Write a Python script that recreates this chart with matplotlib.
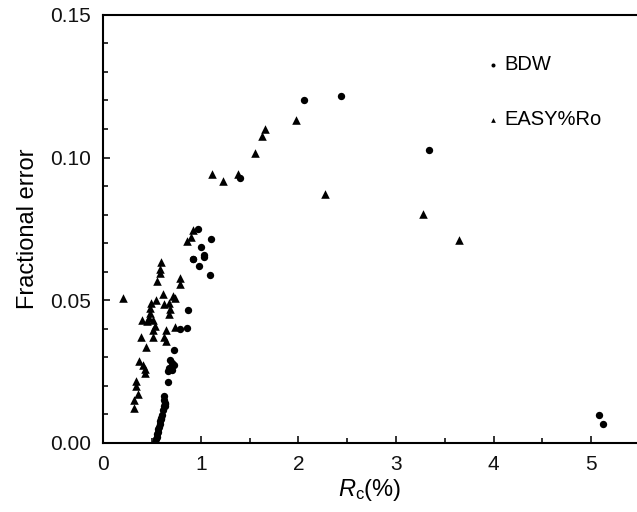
import matplotlib
matplotlib.use("Agg")
import matplotlib.pyplot as plt
from matplotlib.ticker import MultipleLocator, FormatStrFormatter

plt.rcParams['font.family'] = ['Liberation Sans', 'DejaVu Sans']
plt.rcParams['mathtext.fontset'] = 'custom'
plt.rcParams['mathtext.rm'] = 'Liberation Sans'
plt.rcParams['mathtext.it'] = 'Liberation Sans:italic'

# --- data ---
bdw_x = [0.530, 0.540, 0.547, 0.555, 0.560, 0.565, 0.572, 0.578, 0.583, 0.590,
         0.594, 0.601, 0.611, 0.618, 0.618, 0.630, 0.635, 0.630, 0.618,
         0.669, 0.669, 0.679, 0.686, 0.703, 0.703, 0.727, 0.727,
         0.788, 0.863, 0.867,
         0.918, 0.924, 0.976, 0.986, 1.000, 1.034, 1.038, 1.095, 1.105,
         1.402, 2.057, 2.433, 3.334, 5.080, 5.117]
bdw_y = [0.0004, 0.0012, 0.0020, 0.0030, 0.0039, 0.0048, 0.0057, 0.0066, 0.0076, 0.0082,
         0.0088, 0.0099, 0.0116, 0.0128, 0.0151, 0.0128, 0.0140, 0.0138, 0.0163,
         0.0212, 0.0251, 0.0263, 0.0292, 0.0257, 0.0280, 0.0274, 0.0327,
         0.0399, 0.0401, 0.0465,
         0.0645, 0.0644, 0.0749, 0.0619, 0.0686, 0.0653, 0.0657, 0.0589, 0.0714,
         0.0928, 0.1202, 0.1214, 0.1025, 0.0098, 0.0066]

easy_x = [0.198, 0.590, 0.584, 0.577, 0.556, 0.788, 0.788, 0.611, 0.543, 0.488,
          0.481, 0.481, 0.474, 0.618, 0.679, 0.686, 0.676, 0.720, 0.737, 0.396,
          0.447, 0.515, 0.532, 0.508, 0.515, 0.737, 0.645, 0.618, 0.645, 0.389,
          0.437, 0.372, 0.413, 0.427, 0.427, 0.338, 0.338, 0.352, 0.311, 0.311,
          0.863, 0.897, 0.925, 1.112, 1.225, 1.378, 1.556, 1.624, 1.658, 1.975,
          2.272, 3.272, 3.647]
easy_y = [0.0508, 0.0633, 0.0610, 0.0594, 0.0567, 0.0578, 0.0558, 0.0523, 0.0502, 0.0491,
          0.0473, 0.0456, 0.0438, 0.0485, 0.0491, 0.0470, 0.0450, 0.0514, 0.0508, 0.0430,
          0.0426, 0.0430, 0.0411, 0.0397, 0.0371, 0.0406, 0.0397, 0.0371, 0.0356, 0.0371,
          0.0335, 0.0286, 0.0274, 0.0259, 0.0245, 0.0216, 0.0200, 0.0172, 0.0149, 0.0122,
          0.0709, 0.0721, 0.0747, 0.0943, 0.0916, 0.0943, 0.1017, 0.1076, 0.1100, 0.1132,
          0.0872, 0.0803, 0.0712]

fig = plt.figure(figsize=(6.37, 5.12), dpi=100)
ax = fig.add_axes([0.162, 0.135, 0.838, 0.836])

ax.scatter(bdw_x, bdw_y, s=28, marker='o', color='black', linewidths=0, label='BDW')
ax.scatter(easy_x, easy_y, s=38, marker='^', color='black', linewidths=0, label='EASY%Ro')

ax.set_xlim(0, 5.47)
ax.set_ylim(0, 0.15)
ax.xaxis.set_major_locator(MultipleLocator(1))
ax.xaxis.set_minor_locator(MultipleLocator(0.5))
ax.yaxis.set_major_locator(MultipleLocator(0.05))
ax.yaxis.set_minor_locator(MultipleLocator(0.01))
ax.yaxis.set_major_formatter(FormatStrFormatter('%.2f'))
ax.tick_params(which='both', direction='in', width=1.2, labelsize=15, colors='#111111')
ax.tick_params(which='major', length=5)
ax.tick_params(which='minor', length=3.5)
ax.tick_params(axis='y', pad=9)
ax.tick_params(axis='x', pad=9)
for side in ['left', 'bottom', 'top']:
    ax.spines[side].set_linewidth(1.5)
ax.spines['right'].set_visible(False)

ax.set_xlabel(r'$\mathit{R}_\mathrm{c}$(%)', fontsize=17, labelpad=2)
ax.set_ylabel('Fractional error', fontsize=17, labelpad=8)

ax.legend(loc='upper left', bbox_to_anchor=(0.702, 0.93), frameon=False,
          fontsize=14.5, markerscale=0.55, handlelength=0.5, handletextpad=0.3,
          labelspacing=1.8, borderpad=0)

fig.savefig('out.png', dpi=100, facecolor='white')
